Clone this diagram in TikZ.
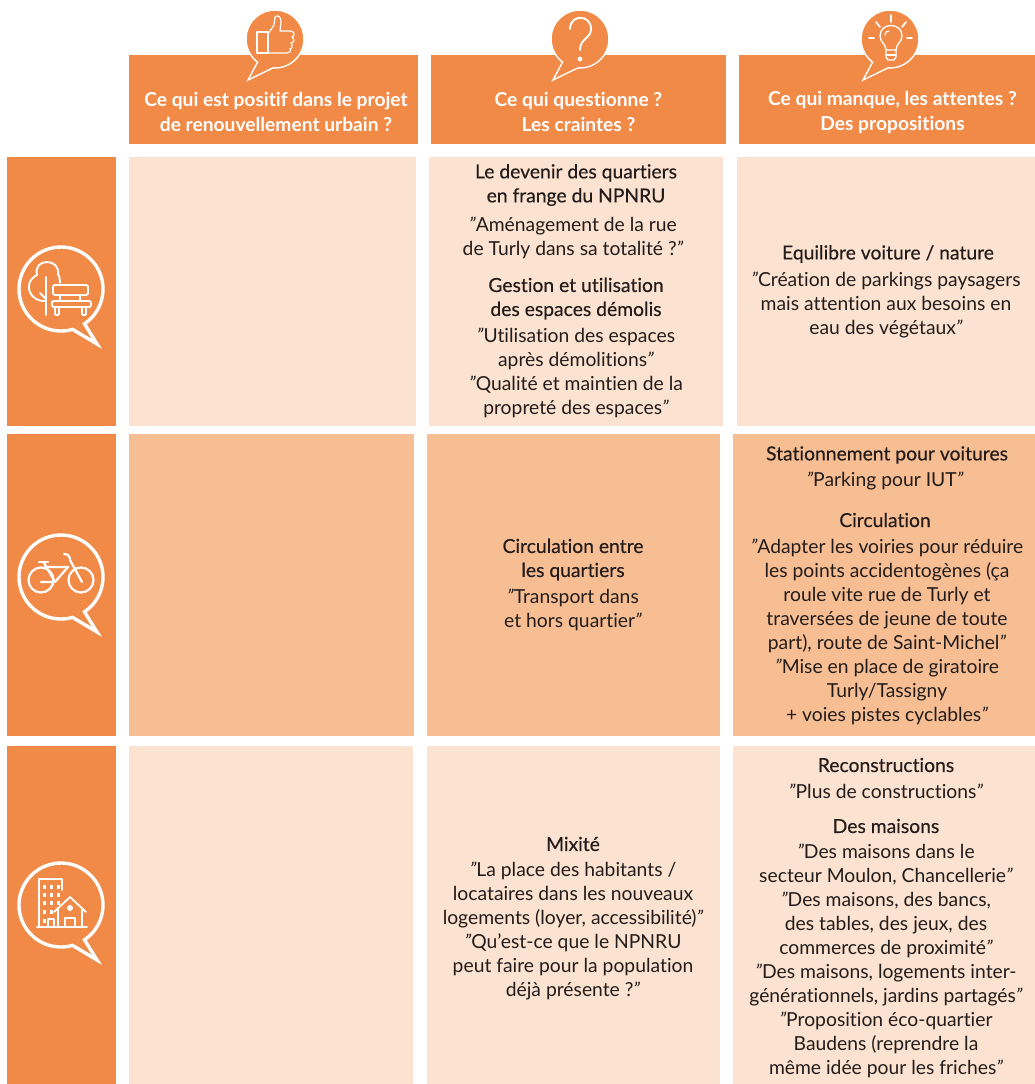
\documentclass[tikz,border=0pt]{standalone}
\usepackage{fontspec}
\setmainfont[Ligatures=NoCommon]{Lato}
\newfontfamily\titlefont[FakeBold=0.3,Ligatures=NoCommon]{Lato}
\newfontfamily\headfont[BoldFont=Lato Bold,Ligatures=NoCommon]{Lato}
\definecolor{orangeM}{RGB}{241,138,71}
\definecolor{peachL}{RGB}{252,226,208}
\definecolor{peachM}{RGB}{247,190,148}
\definecolor{inkT}{RGB}{35,28,26}
\newcommand{\qq}{{\itshape"}}
\tikzset{
  cellL/.style={fill=peachL,draw=none},
  cellM/.style={fill=peachM,draw=none},
  cellO/.style={fill=orangeM,draw=none},
  ttl/.style={text=inkT,align=center,font=\fontsize{19.3}{24}\titlefont,inner sep=0pt},
  quo/.style={text=inkT,align=center,font=\fontsize{19.3}{24}\selectfont,inner sep=0pt},
  hdr/.style={text=white,align=center,font=\fontsize{19.2}{25}\bfseries,inner sep=0pt},
  ic/.style={draw=white,line width=2.2pt,line cap=round,line join=round},
  ich/.style={draw=white,line width=1.2pt,line cap=round,line join=round},
}
\newcommand{\bigbubble}[2]{%
  \draw[white,line width=3.4pt,line join=miter] (#1,#2) ++(74:42) arc[start angle=74,end angle=416,radius=42] -- (#1+36,#2+55) -- cycle;}
\newcommand{\smallbubble}[2]{%
  \draw[white,line width=1.4pt,fill=orangeM,line join=miter] (#1,#2) ++(127:29) arc[start angle=127,end angle=454,radius=29] -- (#1-27,#2+41) -- cycle;}
\begin{document}
\begin{tikzpicture}[x=1pt,y=-1pt]
\useasboundingbox (0,0) rectangle (1035,1084);
% headers
\fill[cellO] (129,55) rectangle (418,144);
\fill[cellO] (431,55) rectangle (726,144);
\fill[cellO] (739,55) rectangle (1035,144);
% left column
\fill[cellO] (7,157) rectangle (116,426);
\fill[cellO] (7,434) rectangle (116,736);
\fill[cellO] (7,746) rectangle (116,1084);
% cells
\fill[cellL] (129,157) rectangle (416,426);
\fill[cellL] (429,157) rectangle (723,426);
\fill[cellL] (737,157) rectangle (1035,426);
\fill[cellM] (129,434) rectangle (414,736);
\fill[cellM] (427,434) rectangle (720,736);
\fill[cellM] (733,434) rectangle (1035,736);
\fill[cellL] (129,746) rectangle (413,1084);
\fill[cellL] (427,746) rectangle (720,1084);
\fill[cellL] (733,746) rectangle (1035,1084);
% header bubbles
\smallbubble{275}{39}
\smallbubble{580}{39}
\smallbubble{890}{39}
% thumb
\draw[ich] (257,32) rectangle (268,53);
\draw[ich] (268,34) -- (274,25) -- (275,17) .. controls (278,14) and (281,17) .. (281,22) -- (280,31) -- (290,31) .. controls (295,31) and (295,36) .. (292,37) .. controls (295,39) and (294,43) .. (291,43) .. controls (293,45) and (292,49) .. (290,49) .. controls (291,52) and (289,53) .. (287,53) -- (268,53);
% question mark
\draw[draw=white,line width=1.9pt,line cap=round] (570,29) .. controls (570,14) and (591,14) .. (591,29) .. controls (591,39) and (580,38) .. (580,50);
\fill[white] (580,59) circle (2.4);
% bulb
\draw[ich,line width=1.3pt] (886,50) .. controls (886,44) and (880,42) .. (880,36) .. controls (880,22) and (902,22) .. (902,36) .. controls (902,42) and (896,44) .. (896,50) -- cycle;
\draw[ich,line width=1.3pt] (886,50) -- (886,57) -- (888,60) -- (894,60) -- (896,57) -- (896,50);
\draw[ich] (886,55) -- (896,55);
\draw[ich] (885,35) .. controls (885,32) and (887,31) .. (889,31);
\draw[ich,line width=1.7pt] (891,15) -- (891,22);
\draw[ich,line width=1.7pt] (876,22) -- (880,27);
\draw[ich,line width=1.7pt] (906,22) -- (902,27);
\draw[ich,line width=1.7pt] (869,38) -- (874,38);
\draw[ich,line width=1.7pt] (907,38) -- (912,38);
% left bubbles
\bigbubble{61}{289}
\bigbubble{61}{577}
\bigbubble{61}{905}
% tree and bench
\draw[ic,line width=1.9pt] (46,277) -- (46,315);
\draw[ic,line width=1.9pt] (40,293) -- (46,299);
\draw[ic,line width=1.9pt] (46,301) .. controls (36,302) and (28,294) .. (29,286) .. controls (29,281) and (33,277) .. (37,275) .. controls (35,267) and (40,262) .. (47,262) .. controls (54,262) and (59,267) .. (58,274) .. controls (59,275) and (60,279) .. (60,283);
\draw[ic,line width=1.9pt,rounded corners=2pt] (53,285) rectangle (88,295);
\draw[ic,line width=1.9pt,rounded corners=2pt] (52,301) rectangle (91,307);
\draw[ic,line width=1.9pt] (60,295) -- (60,301) (80,295) -- (80,301);
\draw[ic,line width=1.9pt,rounded corners=1pt] (55,307) -- (55,315) -- (59,315) -- (59,307);
\draw[ic,line width=1.9pt,rounded corners=1pt] (82,307) -- (82,315) -- (86,315) -- (86,307);
% bike
\draw[ic] (41,580) circle (12.5) (81,580) circle (12.5);
\draw[ic] (41,582) -- (55,582) -- (68,567) -- (45,567);
\draw[ic] (44,563) -- (55,582);
\draw[ic] (39,562) -- (48,562);
\draw[ic] (64,554) .. controls (68,554) and (70,556) .. (70,560) -- (82,582);
% buildings
\draw[ic,line width=1.8pt] (62,890) -- (62,879) -- (39,879) -- (39,927);
\draw[ic,line width=1.8pt] (37,927) -- (87,927);
\foreach \yy in {887,895,903,912,921}{\fill[white] (42.5,\yy-1.7) rectangle ++(3.4,3.4);}
\foreach \yy in {887,895,903,912}{\fill[white] (49.5,\yy-1.7) rectangle ++(3.4,3.4);}
\foreach \yy in {887,895}{\fill[white] (56.5,\yy-1.7) rectangle ++(3.4,3.4);}
\fill[white] (56.5,901.3) rectangle ++(3.4,3.4);
\draw[ic,line width=1.8pt] (54,912) -- (70,897) -- (86,912);
\draw[ic,line width=1.8pt] (58,909) -- (58,927) (82,909) -- (82,927);
\fill[white] (70,908) circle (3);
\draw[ic,line width=1.8pt] (65,927) -- (65,918) -- (75,918) -- (75,927);
\draw[ic,line width=1.5pt] (48,927) -- (48,919) -- (54,919) -- (54,927);
% header text
\node[hdr] (h1) at (276,112) {Ce qui est positif dans le projet\\de renouvellement urbain ?};
\node[hdr] (h2) at (578.5,112) {Ce qui questionne ?\\Les craintes ?};
\node[hdr] (h3) at (892.5,112) {Ce qui manque, les attentes ?\\Des propositions};
% row 1
\node[ttl] (a1) at (576,185) {Le devenir des quartiers\\en frange du NPNRU};
\node[quo] (a2) at (573,238) {\qq Aménagement de la rue\\de Turly dans sa totalité ?\qq};
\node[ttl] (a3) at (576,298.5) {Gestion et utilisation\\des espaces démolis};
\node[quo] (a4) at (576,373) {\qq Utilisation des espaces\\après démolitions\qq\\\qq Qualité et maintien de la\\propreté des espaces\qq};
\node[ttl] (b1) at (888,254) {Equilibre voiture / nature};
\node[quo] (b2) at (886,305) {\qq Création de parkings paysagers\\mais attention aux besoins en\\eau des végétaux\qq};
% row 2
\node[ttl] (c1) at (573,559.5) {Circulation entre\\les quartiers};
\node[quo] (c2) at (573,610) {\qq Transport dans\\et hors quartier\qq};
\node[ttl] (d1) at (887,455) {Stationnement pour voitures};
\node[quo] (d2) at (885,481) {\qq Parking pour IUT\qq};
\node[ttl] (d3) at (885,520) {Circulation};
\node[quo] (d4) at (887,632) {\qq Adapter les voiries pour réduire\\les points accidentogènes (ça\\roule vite rue de Turly et\\traversées de jeune de toute\\part), route de Saint-Michel\qq\\\qq Mise en place de giratoire\\Turly/Tassigny\\+ voies pistes cyclables\qq};
% row 3
\node[ttl] (e1) at (573,844) {Mixité};
\node[quo] (e2) at (573,931) {\qq La place des habitants /\\locataires dans les nouveaux\\logements (loyer, accessibilité)\qq\\\qq Qu’est-ce que le NPNRU\\peut faire pour la population\\déjà présente ?\qq};
\node[ttl] (f1) at (886,765) {Reconstructions};
\node[quo] (f2) at (886,791) {\qq Plus de constructions\qq};
\node[ttl] (f3) at (886,826) {Des maisons};
\node[quo] (f4) at (886,961) {\qq Des maisons dans le\\secteur Moulon, Chancellerie\qq\\\qq Des maisons, des bancs,\\des tables, des jeux, des\\commerces de proximité\qq\\\qq Des maisons, logements inter-\\générationnels, jardins partagés\qq\\\qq Proposition éco-quartier\\Baudens (reprendre la\\même idée pour les friches\qq};
\end{tikzpicture}
\end{document}
